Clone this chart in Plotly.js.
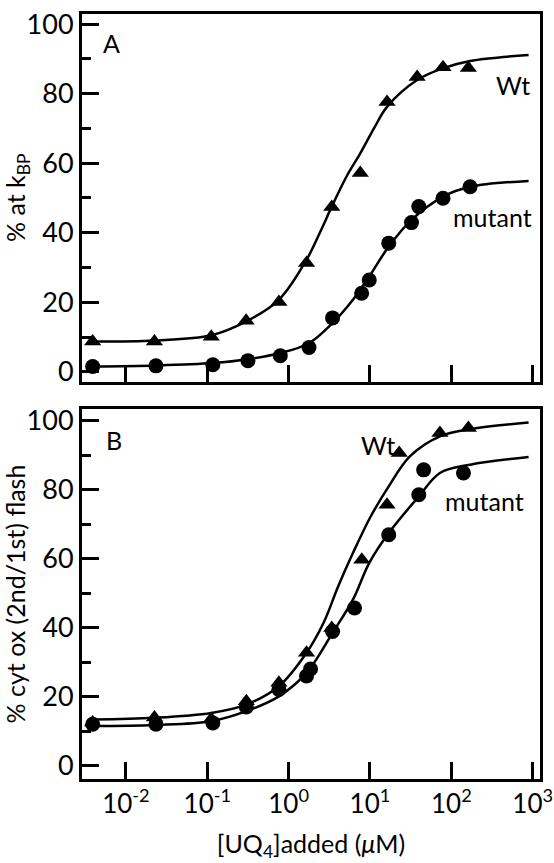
<!DOCTYPE html>
<html>
<head>
<meta charset="utf-8">
<script src="https://cdn.plot.ly/plotly-3.0.1.min.js"></script>
<style>html,body{margin:0;padding:0;background:#fff;}#chart{width:554px;height:863px;}</style>
</head>
<body>
<div id="chart"></div>
<script>
// ---- Panel A: % at k_BP ----
const concWtA  = [0.0039, 0.0224, 0.112, 0.30, 0.76, 1.66, 3.39, 7.6, 16.2, 38, 79, 162];
const wtA      = [8.7, 8.7, 10.1, 14.7, 20.1, 31.3, 47.4, 57.2, 77.6, 84.8, 87.6, 87.4];
const concMutA = [0.0039, 0.0234, 0.117, 0.316, 0.79, 1.78, 3.47, 7.9, 9.8, 17, 32.4, 39.8, 79, 170];
const mutA     = [1.5, 1.7, 2.0, 3.2, 4.6, 7.0, 15.5, 22.6, 26.4, 37.0, 42.9, 47.5, 49.9, 53.2];
// fitted curves
const fitConcWtA  = [0.0039, 0.0224, 0.112, 0.302, 0.759, 1.66, 2.51, 3.39, 5.13, 7.59, 11.5, 16.2, 38.0, 79.4, 170, 891];
const fitWtA      = [8.7, 9.0, 10.5, 14.5, 20.7, 32.2, 40.8, 47.5, 56.1, 62.8, 70.5, 76.2, 83.9, 87.3, 89.4, 91.1];
const fitConcMutA = [0.0039, 0.0234, 0.117, 0.316, 0.794, 1.78, 3.47, 6.17, 9.77, 17.0, 32.4, 79.4, 170, 891];
const fitMutA     = [1.5, 1.8, 2.5, 3.6, 5.4, 8.2, 14.0, 20.7, 27.4, 36.0, 43.7, 50.4, 53.2, 54.9];

// ---- Panel B: % cyt ox (2nd/1st) flash ----
const concWtB  = [0.0039, 0.0224, 0.112, 0.302, 0.759, 1.66, 3.39, 7.94, 16.2, 22.9, 72.4, 162];
const wtB      = [12.5, 14.0, 13.5, 18.7, 24.0, 32.7, 39.9, 59.7, 75.6, 90.6, 96.4, 97.8];
const concMutB = [0.0039, 0.0234, 0.117, 0.302, 0.759, 1.66, 1.86, 3.47, 6.46, 17.0, 39.8, 45.7, 141];
const mutB     = [12.0, 12.0, 12.4, 17.0, 22.1, 26.0, 28.0, 38.9, 45.7, 66.9, 78.5, 85.7, 84.8];
const fitConcWtB  = [0.0039, 0.0224, 0.112, 0.302, 0.759, 1.66, 2.69, 4.07, 6.17, 10.2, 17.0, 30.9, 72.4, 170, 891];
const fitWtB      = [13.4, 13.9, 15.3, 17.7, 23.0, 32.7, 41.4, 52.0, 61.6, 72.2, 80.9, 89.6, 95.4, 97.5, 99.4];
const fitConcMutB = [0.0039, 0.0224, 0.112, 0.302, 0.759, 1.66, 3.47, 6.17, 9.77, 17.0, 39.8, 72.4, 170, 891];
const fitMutB     = [11.5, 11.8, 12.9, 15.8, 20.1, 26.9, 38.5, 48.1, 58.7, 67.4, 78.0, 84.8, 87.2, 89.4];

// ---- axis ticks and labels ----
const xTickVals = [0.01, 0.1, 1, 10, 100, 1000];
const xTickText = ['10<sup>-2</sup>', '10<sup>-1</sup>', '10<sup>0</sup>', '10<sup>1</sup>', '10<sup>2</sup>', '10<sup>3</sup>'];
const panelLabels = ['A', 'B'];
const seriesLabels = ['Wt', 'mutant'];

const FONT = 'Lato, "Open Sans", sans-serif';
const lineStyle = {color: 'black', width: 2.5, shape: 'spline', smoothing: 1};
const tri = {symbol: 'triangle-up', size: 15, color: 'black'};
const dot = {symbol: 'circle', size: 15, color: 'black'};

const traces = [
  {x: fitConcWtA, y: fitWtA, xaxis: 'x2', yaxis: 'y2', mode: 'lines', line: lineStyle},
  {x: fitConcMutA, y: fitMutA, xaxis: 'x2', yaxis: 'y2', mode: 'lines', line: lineStyle},
  {x: concWtA, y: wtA, xaxis: 'x2', yaxis: 'y2', mode: 'markers', marker: tri},
  {x: concMutA, y: mutA, xaxis: 'x2', yaxis: 'y2', mode: 'markers', marker: dot},
  {x: fitConcWtB, y: fitWtB, xaxis: 'x', yaxis: 'y', mode: 'lines', line: lineStyle},
  {x: fitConcMutB, y: fitMutB, xaxis: 'x', yaxis: 'y', mode: 'lines', line: lineStyle},
  {x: concWtB, y: wtB, xaxis: 'x', yaxis: 'y', mode: 'markers', marker: tri},
  {x: concMutB, y: mutB, xaxis: 'x', yaxis: 'y', mode: 'markers', marker: dot}
];

function xAxis(anchor, labels) {
  return {
    type: 'log', range: [-2.54, 3.09], anchor: anchor,
    tickmode: 'array', tickvals: xTickVals, ticktext: xTickText, showticklabels: labels,
    ticks: 'inside', ticklen: 17, tickwidth: 2.5, tickcolor: '#000',
    showline: true, linewidth: 3, linecolor: '#000', mirror: true,
    showgrid: false, zeroline: false,
    tickfont: {family: FONT, size: 26, color: 'black'}
  };
}
function yAxis(domain, range, title, anchor) {
  return {
    domain: domain, range: range, anchor: anchor,
    tick0: 0, dtick: 20,
    ticks: 'inside', ticklen: 17, tickwidth: 2.5, tickcolor: '#000',
    minor: {dtick: 10, ticks: 'inside', ticklen: 9, tickwidth: 2.5, tickcolor: '#000', showgrid: false},
    showline: true, linewidth: 3, linecolor: '#000', mirror: true,
    showgrid: false, zeroline: false,
    tickfont: {family: FONT, size: 27, color: 'black'},
    title: {text: title, font: {family: FONT, size: 25, color: 'black'}, standoff: 3}
  };
}
const xB = xAxis('y', true);
xB.title = {text: '[UQ<sub>4</sub>]added (<i>μ</i>M)', font: {family: FONT, size: 25, color: 'black'}, standoff: 18};

const layout = {
  width: 554, height: 863,
  margin: {l: 82, r: 14, t: 14, b: 84},
  paper_bgcolor: 'white', plot_bgcolor: 'white',
  font: {family: FONT, size: 24, color: 'black'},
  showlegend: false,
  xaxis: xB,
  yaxis: yAxis([0, 0.4835], [-3.85, 103.3], '% cyt ox (2nd/1st) flash', 'x'),
  xaxis2: xAxis('y2', false),
  yaxis2: yAxis([0.5196, 1], [-2.8, 102.9], '% at k<sub>BP</sub>', 'x2')
};

function note(text, xlog, y, xr, yr) {
  return {text: text, xref: xr, yref: yr, x: xlog, y: y, showarrow: false,
          font: {family: FONT, size: 25, color: 'black'}};
}
const notes = [
  note(panelLabels[0], -2.18, 94.5, 'x2', 'y2'),
  note(seriesLabels[0], 2.76, 82.5, 'x2', 'y2'),
  note(seriesLabels[1], 2.51, 44.6, 'x2', 'y2'),
  note(panelLabels[1], -2.15, 94.4, 'x', 'y'),
  note(seriesLabels[0], 1.10, 93.0, 'x', 'y'),
  note(seriesLabels[1], 2.41, 76.6, 'x', 'y')
];

Plotly.newPlot('chart', traces, layout, {displayModeBar: false}).then(function (gd) {
  // add the in-plot labels one at a time (light redraw of annotations only)
  let p = Promise.resolve();
  notes.forEach(function (n, i) {
    p = p.then(function () {
      const upd = {};
      upd['annotations[' + i + ']'] = n;
      return Plotly.relayout(gd, upd);
    });
  });
  return p;
});
</script>
</body>
</html>
